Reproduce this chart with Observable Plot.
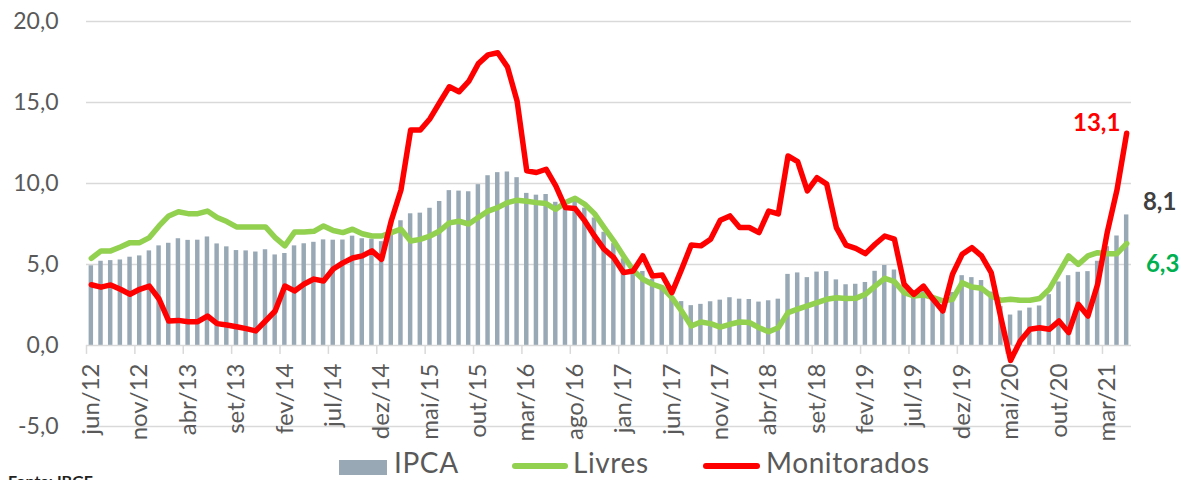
<!DOCTYPE html>
<html>
<head>
<meta charset="utf-8">
<script src="https://cdn.jsdelivr.net/npm/d3@7"></script>
<script src="https://cdn.jsdelivr.net/npm/@observablehq/plot@0.6"></script>
<style>
  html, body { margin: 0; padding: 0; background: #fff; }
  #wrap { position: relative; width: 1181px; height: 480px; overflow: hidden; font-family: Lato, "Open Sans", sans-serif; }
  #chart { position: absolute; left: 0; top: 0; }
  .leg { position: absolute; font-size: 28px; line-height: 33px; height: 33px; letter-spacing: 0.6px; color: #595959; white-space: nowrap; }
  .sw { position: absolute; }
  #src { position: absolute; left: 8px; top: 471px; font-size: 16px; font-weight: bold; color: #222; }
</style>
</head>
<body>
<div id="wrap">
  <div id="chart"></div>
  <div class="sw" style="left:339px; top:460px; width:48px; height:15px; background:#98a9b5;"></div>
  <div class="leg" style="left:394px; top:446px;">IPCA</div>
  <div class="sw" style="left:512px; top:463px; width:56px; height:6px; border-radius:3px; background:#92d050;"></div>
  <div class="leg" style="left:573px; top:446px;">Livres</div>
  <div class="sw" style="left:703px; top:463px; width:57px; height:6px; border-radius:3px; background:#ff0000;"></div>
  <div class="leg" style="left:766px; top:446px;">Monitorados</div>
  <div id="src">Fonte: IBGE</div>
</div>
<script>
// Monthly categories: jun/12 ... mai/21
const monthNames = ["jan","fev","mar","abr","mai","jun","jul","ago","set","out","nov","dez"];
const startYear = 2012, startMonth = 5, nMonths = 108;

// Tick labels (every 5 months)
const tickLabels = ["jun/12","nov/12","abr/13","set/13","fev/14","jul/14","dez/14","mai/15","out/15","mar/16","ago/16","jan/17","jun/17","nov/17","abr/18","set/18","fev/19","jul/19","dez/19","mai/20","out/20","mar/21"];

// IPCA, 12-month % (bars)
const ipca = [4.92,5.20,5.24,5.28,5.45,5.53,5.84,6.15,6.31,6.59,6.49,6.50,6.70,6.27,6.09,5.86,5.84,5.77,5.91,5.59,5.68,6.15,6.28,6.37,6.52,6.50,6.51,6.75,6.59,6.56,6.41,7.14,7.70,8.13,8.17,8.47,8.89,9.56,9.53,9.49,9.93,10.48,10.67,10.71,10.36,9.39,9.28,9.32,8.84,8.74,8.97,8.48,7.87,6.99,6.29,5.35,4.76,4.57,4.08,3.60,3.00,2.71,2.46,2.54,2.70,2.80,2.95,2.86,2.84,2.68,2.76,2.86,4.39,4.48,4.19,4.53,4.56,4.05,3.75,3.78,3.89,4.58,4.94,4.66,3.37,3.22,3.43,2.89,2.54,3.27,4.31,4.19,4.01,3.30,2.40,1.88,2.13,2.31,2.44,3.14,3.92,4.31,4.52,4.56,5.20,6.10,6.76,8.06];

// Livres, 12-month %
const livres = [5.38,5.84,5.84,6.08,6.35,6.35,6.66,7.38,8.0,8.26,8.14,8.14,8.3,7.9,7.65,7.32,7.32,7.32,7.32,6.66,6.15,7.0,7.0,7.05,7.38,7.1,6.97,7.18,6.9,6.76,6.76,6.97,7.18,6.45,6.55,6.76,7.07,7.57,7.67,7.5,7.9,8.3,8.51,8.82,8.97,8.9,8.82,8.76,8.41,8.82,9.09,8.72,8.14,7.28,6.45,5.53,4.64,4.09,3.78,3.57,2.95,2.13,1.2,1.45,1.35,1.14,1.31,1.45,1.42,1.1,0.85,1.1,2.03,2.24,2.44,2.64,2.85,2.95,2.9,2.91,3.16,3.67,4.15,3.94,3.26,3.06,3.12,2.95,2.75,2.85,3.88,3.61,3.53,3.06,2.79,2.85,2.79,2.79,2.9,3.47,4.5,5.53,5.01,5.53,5.73,5.67,5.67,6.29];

// Monitorados, 12-month %
const monitorados = [3.75,3.6,3.74,3.47,3.16,3.47,3.67,2.87,1.51,1.55,1.47,1.47,1.82,1.35,1.26,1.16,1.04,0.9,1.51,2.13,3.67,3.37,3.8,4.1,3.98,4.72,5.1,5.4,5.53,5.84,5.32,7.7,9.6,13.3,13.3,14.0,15.0,15.97,15.66,16.3,17.4,17.94,18.07,17.2,15.1,10.78,10.68,10.88,9.85,8.51,8.45,7.69,6.76,5.94,5.42,4.5,4.6,5.53,4.29,4.35,3.26,4.7,6.2,6.15,6.56,7.73,8.0,7.28,7.28,6.97,8.3,8.12,11.7,11.35,9.54,10.36,9.96,7.28,6.2,6.0,5.67,6.25,6.76,6.56,3.78,3.16,3.67,2.85,2.13,4.4,5.63,6.04,5.53,4.5,1.72,-0.92,0.28,1.0,1.1,1.0,1.51,0.8,2.54,1.82,3.78,7.0,9.6,13.1];

const yTicks = [-5, 0, 5, 10, 15, 20];

const categories = d3.range(nMonths).map(i => {
  const m = (startMonth + i) % 12;
  const y = startYear + Math.floor((startMonth + i) / 12);
  return monthNames[m] + "/" + String(y).slice(2);
});
const data = categories.map((c, i) => ({i, cat: c, ipca: ipca[i], livres: livres[i], mon: monitorados[i]}));
const tickData = tickLabels.map(l => ({i: categories.indexOf(l), label: l}));
const last = data[data.length - 1];
const fmt = v => v.toFixed(1).replace(".", ",");

const chart = Plot.plot({
  width: 1181,
  height: 480,
  marginLeft: 86,
  marginRight: 50,
  marginTop: 21,
  marginBottom: 54,
  x: {type: "linear", domain: [-0.5, nMonths - 0.5], axis: null},
  y: {domain: [-5, 20], axis: null},
  style: {fontFamily: "Lato, 'Open Sans', sans-serif", background: "transparent"},
  marks: [
    Plot.ruleY(yTicks.filter(d => d !== 0), {stroke: "#d9d9d9", strokeWidth: 1.5}),
    Plot.rectY(data, {x1: d => d.i - 0.23, x2: d => d.i + 0.23, y: "ipca", fill: "#98a9b5"}),
    Plot.ruleY([0], {stroke: "#d9d9d9", strokeWidth: 1.5}),
    Plot.ruleX(tickData, {x: d => d.i - 0.5, y1: 0, y2: -0.55, stroke: "#d9d9d9", strokeWidth: 1.5}),
    Plot.line(data, {x: "i", y: "livres", stroke: "#92d050", strokeWidth: 5.5, strokeLinejoin: "round", strokeLinecap: "round"}),
    Plot.line(data, {x: "i", y: "mon", stroke: "#ff0000", strokeWidth: 5.5, strokeLinejoin: "round", strokeLinecap: "round"}),
    Plot.text(yTicks, {y: d => d, frameAnchor: "left", dx: -28, textAnchor: "end", text: d => fmt(d), fontSize: 23, fill: "#595959"}),
    Plot.text(tickData, {x: "i", y: () => 0, text: "label", rotate: -90, textAnchor: "end", dy: 18, fontSize: 24, fill: "#595959"}),
    Plot.text([last], {x: "i", y: "mon", text: d => fmt(d.mon), dx: -30, dy: -10, fontSize: 24, fontWeight: "bold", fill: "#ff0000"}),
    Plot.text([last], {x: "i", y: "ipca", text: d => fmt(d.ipca), dx: 33, dy: -13, fontSize: 24, fontWeight: "bold", fill: "#404040"}),
    Plot.text([last], {x: "i", y: "livres", text: d => fmt(d.livres), dx: 36, dy: 21, fontSize: 24, fontWeight: "bold", fill: "#00b050"})
  ]
});
document.getElementById("chart").appendChild(chart);
</script>
</body>
</html>
